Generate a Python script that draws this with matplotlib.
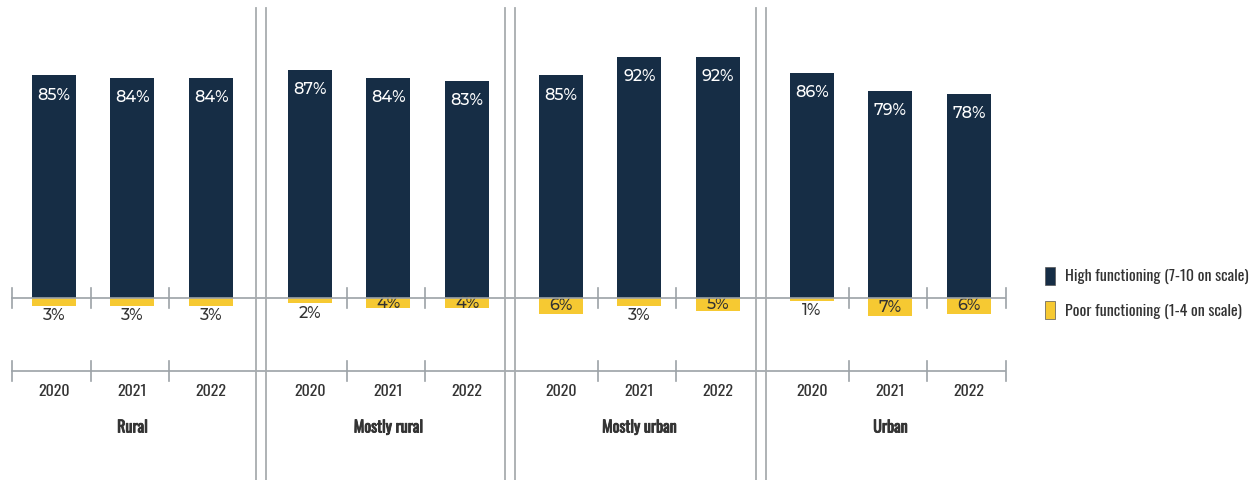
import matplotlib.pyplot as plt
import matplotlib.patheffects as pe
from matplotlib.patches import Patch
from matplotlib.lines import Line2D

# data
groups = ['Rural', 'Mostly rural', 'Mostly urban', 'Urban']
years = ['2020', '2021', '2022']
high = [[85, 84, 84], [87, 84, 83], [85, 92, 92], [86, 79, 78]]
poor = [[3, 3, 3], [2, 4, 4], [6, 3, 5], [1, 7, 6]]

navy = '#162d45'
yellow = '#f6c932'
line_col = '#9ca2a7'
txt_col = '#333333'
narrow = ['Oswald', 'Fira Sans Condensed', 'DejaVu Sans']
num_font = ['Montserrat Alternates', 'Lato', 'DejaVu Sans']

W, H = 1258, 480
fig = plt.figure(figsize=(W / 100, H / 100), dpi=100)

def fx(px):
    return px / W

def fy(py):
    return 1 - py / H

pxs = 2.62           # pixels per percent
zero_y = 298         # pixel row of the zero line
top_y = 8
ymax = (zero_y - top_y) / pxs
ymin = -(H - zero_y) / pxs
yr_axis = -(370.5 - zero_y) / pxs
yr_lab = -(391 - zero_y) / pxs
grp_lab = -(428 - zero_y) / pxs
tick = 10 / pxs

panel_left = [12, 268, 519, 770]
cat_w = 78.7
tick_pos = [[0, 1, 2], [1, 2], [1, 2], [1, 2, 3]]
fake_bold = [pe.withStroke(linewidth=0.6, foreground=txt_col)]

for g, name in enumerate(groups):
    ax = fig.add_axes([fx(panel_left[g]), fy(H), fx(3 * cat_w), fy(top_y) - fy(H)])
    ax.set_xlim(0, 3)
    ax.set_ylim(ymin, ymax)
    ax.axis('off')
    x = [i + 0.53 for i in range(3)]
    ax.bar(x, high[g], width=0.56, color=navy, zorder=2)
    ax.bar(x, [-v for v in poor[g]], width=0.56, color=yellow, zorder=2)
    for i in range(3):
        ax.text(x[i], high[g][i] - 7.6, f'{high[g][i]}%', ha='center', va='center',
                color='white', fontsize=11.5, family=num_font, fontweight='medium', zorder=3)
        p = poor[g][i]
        if p >= 4:
            ypos = -p / 2
        else:
            ypos = -(p + 3.8)
        ax.text(x[i], ypos, f'{p}%', ha='center', va='center', color=txt_col,
                fontsize=11.5, family=num_font, fontweight='medium', zorder=3)
        ax.text(x[i], yr_lab, years[i], ha='center', va='center', color=txt_col,
                fontsize=11.5, family=narrow)
    # ticks at category boundaries
    for b in tick_pos[g]:
        for yy in (0, yr_axis):
            ax.plot([b, b], [yy - tick, yy + tick], color=line_col, lw=1.2,
                    clip_on=False, zorder=1)
    ax.text(1.53, grp_lab, name, ha='center', va='center', color=txt_col,
            fontsize=11.5, family=narrow, path_effects=fake_bold)

# long axis lines across all panels
for py in (zero_y, 370.5):
    fig.add_artist(Line2D([fx(12), fx(1005)], [fy(py), fy(py)], color=line_col, lw=1.2, zorder=1))

# double divider lines between panels
for px in (256, 266, 505, 515, 756, 766):
    fig.add_artist(Line2D([fx(px), fx(px)], [fy(top_y), fy(H)], color='#a8acaf', lw=1.3))

handles = [Patch(facecolor=navy, edgecolor='#555555', lw=0.5),
           Patch(facecolor=yellow, edgecolor='#555555', lw=0.5)]
labels = ['High functioning (7-10 on scale)', 'Poor functioning (1-4 on scale)']
fig.legend(handles, labels, loc='center left', bbox_to_anchor=(fx(1031), fy(293)),
           frameon=False, handlelength=0.62, handleheight=1.3, handletextpad=0.6,
           labelspacing=1.05, prop={'family': narrow, 'size': 11.5}, labelcolor=txt_col)

fig.savefig('out.png', dpi=100)
